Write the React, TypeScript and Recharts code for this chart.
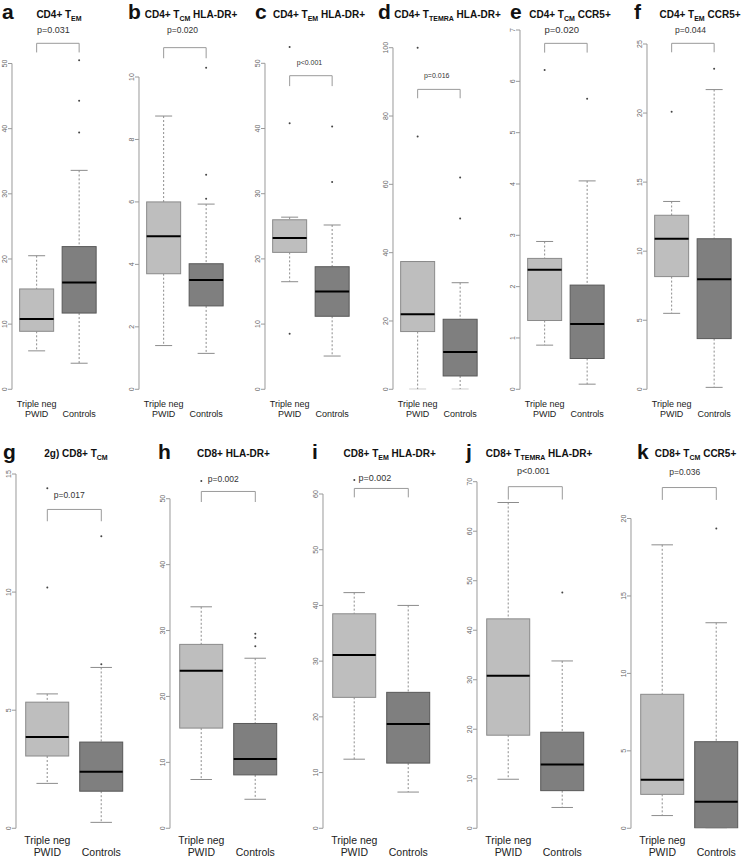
import {
  Bar,
  ComposedChart,
  ReferenceDot,
  ReferenceLine,
  XAxis,
  YAxis,
} from "recharts";

const GROUPS = ["Triple neg PWID", "Controls"];
const GROUP_LINES = [
  ["Triple neg", "PWID"],
  ["", "Controls"],
];

// five-number summaries per group: [min, q1, median, q3, max]
const A_STATS = [
  [5.9, 8.9, 10.8, 15.4, 20.5],
  [4.0, 11.7, 16.4, 21.9, 33.6],
];
const A_OUTLIERS = [[], [50.5, 44.3, 39.4]];
const A_TICKS = [0, 10, 20, 30, 40, 50];

const B_STATS = [
  [1.4, 3.7, 4.9, 6.0, 8.75],
  [1.15, 2.67, 3.5, 4.02, 5.93],
];
const B_OUTLIERS = [[], [10.3, 6.87, 6.1]];
const B_TICKS = [0, 2, 4, 6, 8, 10];

const C_STATS = [
  [16.5, 21.0, 23.2, 26.0, 26.4],
  [5.1, 11.2, 15.0, 18.8, 25.2],
];
const C_OUTLIERS = [
  [52.5, 40.8, 8.5],
  [40.3, 31.8],
];
const C_TICKS = [0, 10, 20, 30, 40, 50];

const D_STATS = [
  [0, 16.9, 22.0, 37.4, 37.4],
  [0, 3.9, 10.9, 20.5, 31.2],
];
const D_OUTLIERS = [
  [100, 74],
  [62, 50],
];
const D_TICKS = [0, 20, 40, 60, 80, 100];

const E_STATS = [
  [0.86, 1.34, 2.33, 2.55, 2.88],
  [0.1, 0.6, 1.27, 2.03, 4.06],
];
const E_OUTLIERS = [[6.22], [5.66]];
const E_TICKS = [0, 1, 2, 3, 4, 5, 6, 7];

const F_STATS = [
  [5.5, 8.16, 10.9, 12.6, 13.6],
  [0.14, 3.67, 7.96, 10.9, 21.7],
];
const F_OUTLIERS = [[20.1], [23.2]];
const F_TICKS = [0, 5, 10, 15, 20, 25];

const G_STATS = [
  [1.9, 3.06, 3.86, 5.34, 5.69],
  [0.25, 1.57, 2.39, 3.65, 6.81],
];
const G_OUTLIERS = [
  [14.4, 10.2],
  [12.36, 6.95],
];
const G_TICKS = [0, 5, 10, 15];

const H_STATS = [
  [7.4, 15.2, 23.9, 27.9, 33.6],
  [4.4, 8.1, 10.5, 15.9, 25.8],
];
const H_OUTLIERS = [[52.7], [29.5, 28.9, 27.6]];
const H_TICKS = [0, 10, 20, 30, 40, 50];

const I_STATS = [
  [12.4, 23.5, 31.1, 38.5, 42.3],
  [6.5, 11.7, 18.7, 24.4, 40.0],
];
const I_OUTLIERS = [[62.5], []];
const I_TICKS = [0, 10, 20, 30, 40, 50, 60];

const J_STATS = [
  [9.9, 18.8, 30.8, 42.3, 65.8],
  [4.2, 7.6, 12.9, 19.4, 33.8],
];
const J_OUTLIERS = [[], [47.6]];
const J_TICKS = [0, 10, 20, 30, 40, 50, 60, 70];

const K_STATS = [
  [0.82, 2.19, 3.14, 8.65, 18.3],
  [0, 0, 1.72, 5.59, 13.27],
];
const K_OUTLIERS = [[], [19.35]];
const K_TICKS = [0, 5, 10, 15, 20];

// [text, isSubscript]
const TITLES: [string, number][][] = [
  [["CD4+ T", 0], ["EM", 1]],
  [["CD4+ T", 0], ["CM", 1], [" HLA-DR+", 0]],
  [["CD4+ T", 0], ["EM", 1], [" HLA-DR+", 0]],
  [["CD4+ T", 0], ["TEMRA", 1], [" HLA-DR+", 0]],
  [["CD4+ T", 0], ["CM", 1], [" CCR5+", 0]],
  [["CD4+ T", 0], ["EM", 1], [" CCR5+", 0]],
  [["2g) CD8+ T", 0], ["CM", 1]],
  [["CD8+ HLA-DR+", 0]],
  [["CD8+ T", 0], ["EM", 1], [" HLA-DR+", 0]],
  [["CD8+ T", 0], ["TEMRA", 1], [" HLA-DR+", 0]],
  [["CD8+ T", 0], ["CM", 1], [" CCR5+", 0]],
];
const LETTERS = ["a", "b", "c", "d", "e", "f", "g", "h", "i", "j", "k"];
const P_VALUES = [
  "p=0.031",
  "p=0.020",
  "p<0.001",
  "p=0.016",
  "p=0.020",
  "p=0.044",
  "p=0.017",
  "p=0.002",
  "p=0.002",
  "p<0.001",
  "p=0.036",
];
// bracket height and leg end, in data units
const BRACKETS = [
  [53.1, 51.7],
  [10.94, 10.6],
  [48.1, 46.5],
  [87.8, 85.2],
  [6.74, 6.56],
  [25.05, 24.4],
  [13.5, 13.0],
  [51.1, 49.5],
  [61.0, 59.4],
  [69.0, 66.4],
  [22.0, 21.2],
];

const STATS = [A_STATS, B_STATS, C_STATS, D_STATS, E_STATS, F_STATS, G_STATS, H_STATS, I_STATS, J_STATS, K_STATS];
const OUTLIERS = [A_OUTLIERS, B_OUTLIERS, C_OUTLIERS, D_OUTLIERS, E_OUTLIERS, F_OUTLIERS, G_OUTLIERS, H_OUTLIERS, I_OUTLIERS, J_OUTLIERS, K_OUTLIERS];
const TICKS = [A_TICKS, B_TICKS, C_TICKS, D_TICKS, E_TICKS, F_TICKS, G_TICKS, H_TICKS, I_TICKS, J_TICKS, K_TICKS];

// layout
const FONT = "'Liberation Sans', Arial, Helvetica, sans-serif";
const Y_AXIS_W = 14;
const BOX_FILL = ["#bebebe", "#7f7f7f"];
const BOX_EDGE = ["#8a8a8a", "#585858"];
const WHISKER = "#8c8c8c";
const AXIS = "#9a9a9a";

type Row = {
  top: number;
  y0: number;
  spacing: number;
  axisH: number;
  labelDy: number[];
  labelFont: number;
  letterY: number;
  titleY: number;
};
const ROW1: Row = { top: 0, y0: 389.3, spacing: 42.5, axisH: 36, labelDy: [17.3, 27.5], labelFont: 9, letterY: 19, titleY: 18 };
const ROW2: Row = { top: 430, y0: 828.3, spacing: 54, axisH: 30, labelDy: [16.2, 28.2], labelFont: 10.5, letterY: 459, titleY: 457 };

// per panel: first box centre, pixel of top tick, letter x, title centre, p label [x, baseline, size]
const LAYOUT = [
  { row: ROW1, c1: 36.5, yTop: 63.5, letterX: 2, titleX: 59, p: [53.5, 33, 9] },
  { row: ROW1, c1: 164, yTop: 77, letterX: 128, titleX: 191, p: [182.5, 33, 8.5] },
  { row: ROW1, c1: 290, yTop: 63.3, letterX: 255, titleX: 319, p: [309.5, 65, 7] },
  { row: ROW1, c1: 417.5, yTop: 47.7, letterX: 378, titleX: 447.5, p: [436.7, 77.5, 7] },
  { row: ROW1, c1: 545, yTop: 30, letterX: 510, titleX: 570, p: [561.8, 33, 9.5] },
  { row: ROW1, c1: 671.5, yTop: 44, letterX: 634, titleX: 700, p: [690.5, 33, 8.5] },
  { row: ROW2, c1: 47.8, yTop: 474, letterX: 3, titleX: 76, p: [69.2, 498, 8.5] },
  { row: ROW2, c1: 201.3, yTop: 498.7, letterX: 158, titleX: 233.5, p: [223.3, 482, 8.5] },
  { row: ROW2, c1: 354.7, yTop: 494, letterX: 312, titleX: 389.7, p: [375, 481, 9] },
  { row: ROW2, c1: 508.3, yTop: 481.7, letterX: 466, titleX: 539, p: [533.3, 474, 9] },
  { row: ROW2, c1: 662, yTop: 518.5, letterX: 637, titleX: 695.5, p: [684.7, 474.5, 8.5] },
];

const BoxShape = (props: any) => {
  const { x, y, width, height, payload, index } = props;
  const [lo, q1, med, q3, hi] = payload.stats;
  const top = Math.min(y, y + height);
  const k = Math.abs(height) / (hi - lo);
  const py = (v: number) => top + (hi - v) * k;
  const cx = x + width / 2;
  const cap = width / 4;
  return (
    <g>
      <line x1={cx} x2={cx} y1={py(hi)} y2={py(q3)} stroke={WHISKER} strokeDasharray="2 2" />
      <line x1={cx} x2={cx} y1={py(q1)} y2={py(lo)} stroke={WHISKER} strokeDasharray="2 2" />
      <line x1={cx - cap} x2={cx + cap} y1={py(hi)} y2={py(hi)} stroke={WHISKER} />
      <line x1={cx - cap} x2={cx + cap} y1={py(lo)} y2={py(lo)} stroke={WHISKER} />
      <rect
        x={x}
        y={py(q3)}
        width={width}
        height={py(q1) - py(q3)}
        fill={BOX_FILL[index]}
        stroke={BOX_EDGE[index]}
      />
      <line x1={x} x2={x + width} y1={py(med)} y2={py(med)} stroke="#000" strokeWidth={2} />
    </g>
  );
};

const ValueTick = ({ x, y, payload }: any) => (
  <text
    x={x}
    y={y}
    transform={`rotate(-90 ${x} ${y})`}
    textAnchor="middle"
    fontSize={7}
    fill="#666"
    fontFamily={FONT}
  >
    {payload.value}
  </text>
);

const GroupTick = ({ x, y, payload, row }: any) => {
  const lines = GROUP_LINES[GROUPS.indexOf(payload.value)];
  return (
    <g fontFamily={FONT} fontSize={row.labelFont} fill="#222">
      <text x={x} y={y + row.labelDy[0]} textAnchor="middle">
        {lines[0]}
      </text>
      <text x={x} y={y + row.labelDy[1]} textAnchor="middle">
        {lines[1]}
      </text>
    </g>
  );
};

const BoxPanel = ({ i }: { i: number }) => {
  const lay = LAYOUT[i];
  const row = lay.row;
  const pad = row.spacing * 0.08;
  const plotW = row.spacing * 2 + pad * 2;
  const axisX = lay.c1 - row.spacing / 2 - pad;
  const mt = lay.yTop - row.top;
  const plotH = row.y0 - lay.yTop;
  const ticks = TICKS[i];
  const data = GROUPS.map((name, g) => ({
    name,
    range: [STATS[i][g][0], STATS[i][g][4]],
    stats: STATS[i][g],
  }));
  const [bTop, bLeg] = BRACKETS[i];
  return (
    <div style={{ position: "absolute", left: axisX - Y_AXIS_W, top: row.top }}>
      <ComposedChart
        width={Y_AXIS_W + plotW + 2}
        height={mt + plotH + row.axisH}
        data={data}
        margin={{ top: mt, right: 2, bottom: 0, left: 0 }}
        barCategoryGap="10%"
      >
        <XAxis
          dataKey="name"
          type="category"
          padding={{ left: pad, right: pad }}
          axisLine={false}
          tickLine={false}
          tickSize={0}
          tickMargin={0}
          height={row.axisH}
          interval={0}
          tick={(p: any) => <GroupTick {...p} row={row} />}
        />
        <YAxis
          type="number"
          domain={[0, ticks[ticks.length - 1]]}
          ticks={ticks}
          interval={0}
          allowDataOverflow
          width={Y_AXIS_W}
          stroke={AXIS}
          tickSize={4}
          tickMargin={1}
          tick={<ValueTick />}
        />
        <Bar dataKey="range" shape={BoxShape} isAnimationActive={false} />
        {OUTLIERS[i].map((vals, g) =>
          vals.map((v, n) => (
            <ReferenceDot
              key={`o${g}-${n}`}
              x={GROUPS[g]}
              y={v}
              r={1}
              fill="#444"
              stroke="none"
              ifOverflow="visible"
            />
          ))
        )}
        <ReferenceLine
          segment={[
            { x: GROUPS[0], y: bTop },
            { x: GROUPS[1], y: bTop },
          ]}
          stroke={AXIS}
          ifOverflow="visible"
        />
        {GROUPS.map((g) => (
          <ReferenceLine
            key={`leg-${g}`}
            segment={[
              { x: g, y: bTop },
              { x: g, y: bLeg },
            ]}
            stroke={AXIS}
            ifOverflow="visible"
          />
        ))}
      </ComposedChart>
    </div>
  );
};

const Labels = () => (
  <svg
    width={741}
    height={857}
    style={{ position: "absolute", left: 0, top: 0, pointerEvents: "none" }}
    fontFamily={FONT}
  >
    {LAYOUT.map((lay, i) => (
      <g key={LETTERS[i]}>
        <text x={lay.letterX} y={lay.row.letterY} fontSize={21} fontWeight="bold" fill="#111">
          {LETTERS[i]}
        </text>
        <text x={lay.titleX} y={lay.row.titleY} fontSize={10} fontWeight="bold" textAnchor="middle" fill="#111">
          {TITLES[i].map(([t, sub], n) => {
            const prevSub = n > 0 && TITLES[i][n - 1][1] === 1;
            return (
              <tspan key={n} fontSize={sub ? 7 : 10} dy={sub ? 2.5 : prevSub ? -2.5 : 0}>
                {t}
              </tspan>
            );
          })}
        </text>
        <text x={lay.p[0]} y={lay.p[1]} fontSize={lay.p[2]} textAnchor="middle" fill="#333">
          {P_VALUES[i]}
        </text>
      </g>
    ))}
  </svg>
);

export default function App() {
  return (
    <div
      style={{
        position: "absolute",
        left: 0,
        top: 0,
        width: 741,
        height: 857,
        background: "#fff",
        overflow: "hidden",
        fontFamily: FONT,
      }}
    >
      {LAYOUT.map((_, i) => (
        <BoxPanel key={i} i={i} />
      ))}
      <Labels />
    </div>
  );
}
